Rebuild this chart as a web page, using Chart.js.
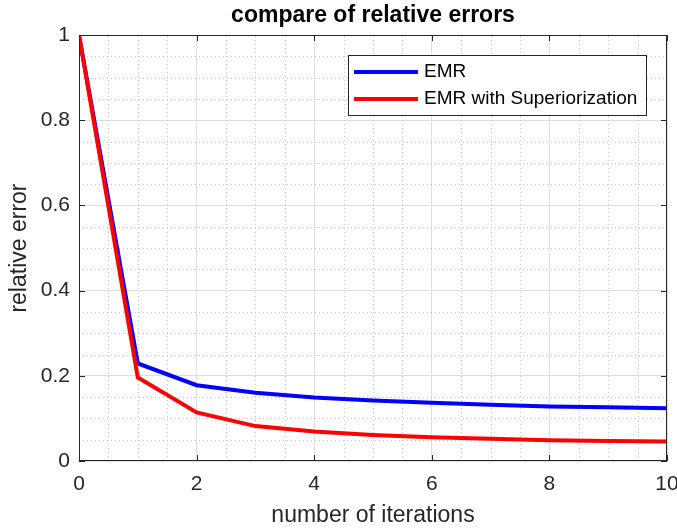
<!DOCTYPE html>
<html>
<head>
<meta charset="utf-8">
<script src="https://cdn.jsdelivr.net/npm/chart.js@4/dist/chart.umd.min.js"></script>
<style>
  html, body { margin: 0; padding: 0; background: #fff; }
  #wrap { width: 677px; height: 529px; position: relative; }
</style>
</head>
<body>
<div id="wrap"><canvas id="chart"></canvas></div>
<script>
// data
var iterations = [0, 1, 2, 3, 4, 5, 6, 7, 8, 9, 10];
var emr = [1.0, 0.229, 0.178, 0.160, 0.149, 0.142, 0.137, 0.132, 0.128, 0.126, 0.124];
var emrSup = [1.0, 0.196, 0.114, 0.082, 0.069, 0.061, 0.056, 0.052, 0.049, 0.047, 0.046];
var seriesNames = ['EMR', 'EMR with Superiorization'];
var seriesColors = ['#0000ff', '#ff0000'];

var AXIS = '#262626';
var FONT = 'Liberation Sans';

// minor dotted grid + box + inward ticks (matlab look)
var matlabBox = {
  id: 'matlabBox',
  beforeDatasetsDraw: function(c) {
    var a = c.chartArea, ctx = c.ctx, xs = c.scales.x, ys = c.scales.y;
    ctx.save();
    ctx.strokeStyle = '#c4c4c4';
    ctx.lineWidth = 1;
    ctx.setLineDash([1, 3]);
    for (var v = 0.5; v < 10; v += 0.5) {
      if (v % 2 == 0) continue;
      var px = Math.round(xs.getPixelForValue(v)) + 0.5;
      ctx.beginPath(); ctx.moveTo(px, a.bottom); ctx.lineTo(px, a.top); ctx.stroke();
    }
    for (var k = 1; k < 20; k++) {
      if (k % 4 == 0) continue;
      var py = Math.round(ys.getPixelForValue(k * 0.05)) + 0.5;
      ctx.beginPath(); ctx.moveTo(a.left, py); ctx.lineTo(a.right, py); ctx.stroke();
    }
    ctx.restore();
  },
  afterDatasetsDraw: function(c) {
    var a = c.chartArea, ctx = c.ctx, xs = c.scales.x, ys = c.scales.y;
    ctx.save();
    ctx.strokeStyle = AXIS;
    ctx.lineWidth = 1;
    ctx.strokeRect(Math.round(a.left) + 0.5, Math.round(a.top) + 0.5,
                   Math.round(a.right - a.left) - 1, Math.round(a.bottom - a.top) - 1);
    ctx.beginPath();
    for (var v = 0; v <= 10; v += 2) {
      var px = Math.round(xs.getPixelForValue(v)) + 0.5;
      ctx.moveTo(px, a.bottom); ctx.lineTo(px, a.bottom - 6);
      ctx.moveTo(px, a.top); ctx.lineTo(px, a.top + 6);
    }
    for (var k = 0; k <= 5; k++) {
      var py = Math.round(ys.getPixelForValue(k * 0.2)) + 0.5;
      ctx.moveTo(a.left, py); ctx.lineTo(a.left + 6, py);
      ctx.moveTo(a.right, py); ctx.lineTo(a.right - 6, py);
    }
    ctx.stroke();

    // legend box
    var lx = 348, ly = 55, lw = 298, lh = 60;
    ctx.fillStyle = '#fff';
    ctx.fillRect(lx, ly, lw, lh);
    ctx.strokeStyle = AXIS;
    ctx.strokeRect(lx + 0.5, ly + 0.5, lw, lh);
    ctx.font = '19px "' + FONT + '"';
    ctx.textBaseline = 'middle';
    ctx.lineWidth = 4;
    for (var i = 0; i < seriesNames.length; i++) {
      var yy = ly + 17 + i * 27;
      ctx.strokeStyle = seriesColors[i];
      ctx.beginPath(); ctx.moveTo(354, yy); ctx.lineTo(418, yy); ctx.stroke();
      ctx.fillStyle = '#000';
      ctx.fillText(seriesNames[i], 424, yy);
    }
    ctx.restore();
  }
};

var ctx0 = document.getElementById('chart').getContext('2d');
var chart = new Chart(ctx0, {
  type: 'line',
  data: {
    labels: iterations,
    datasets: [
      { label: seriesNames[0], data: emr, borderColor: seriesColors[0], borderWidth: 4, pointRadius: 0, tension: 0, fill: false, order: 1 },
      { label: seriesNames[1], data: emrSup, borderColor: seriesColors[1], borderWidth: 4, pointRadius: 0, tension: 0, fill: false, order: 0 }
    ]
  },
  options: {
    animation: false,
    responsive: true,
    maintainAspectRatio: false,
    layout: { padding: { left: 0, right: 0, top: 0, bottom: 0 } },
    plugins: {
      legend: { display: false },
      tooltip: { enabled: false },
      title: {
        display: true,
        text: 'compare of relative errors',
        fullSize: false,
        color: '#000',
        font: { family: FONT, size: 23, weight: 'bold' },
        padding: { top: 1.5, bottom: 6 }
      }
    },
    scales: {
      x: {
        type: 'linear',
        min: 0, max: 10,
        afterFit: function(s) { s.height = 68; s.paddingRight = 10; s.paddingLeft = 0; },
        grid: { color: '#dedede', drawTicks: false },
        border: { display: false },
        ticks: { stepSize: 2, padding: 11, color: AXIS, font: { family: FONT, size: 21 } },
        title: { display: true, text: 'number of iterations', color: AXIS, font: { family: FONT, size: 23 }, padding: { top: 0, bottom: 0 } }
      },
      y: {
        min: 0, max: 1,
        afterFit: function(s) { s.width = 79; },
        grid: { color: '#dedede', drawTicks: false },
        border: { display: false },
        ticks: { stepSize: 0.2, padding: 9, color: AXIS, font: { family: FONT, size: 21 },
                 callback: function(v) { return Math.round(v * 10) / 10; } },
        title: { display: true, text: 'relative error', color: AXIS, font: { family: FONT, size: 23 }, padding: { top: 6, bottom: 0 } }
      }
    }
  },
  plugins: [matlabBox]
});
</script>
</body>
</html>
